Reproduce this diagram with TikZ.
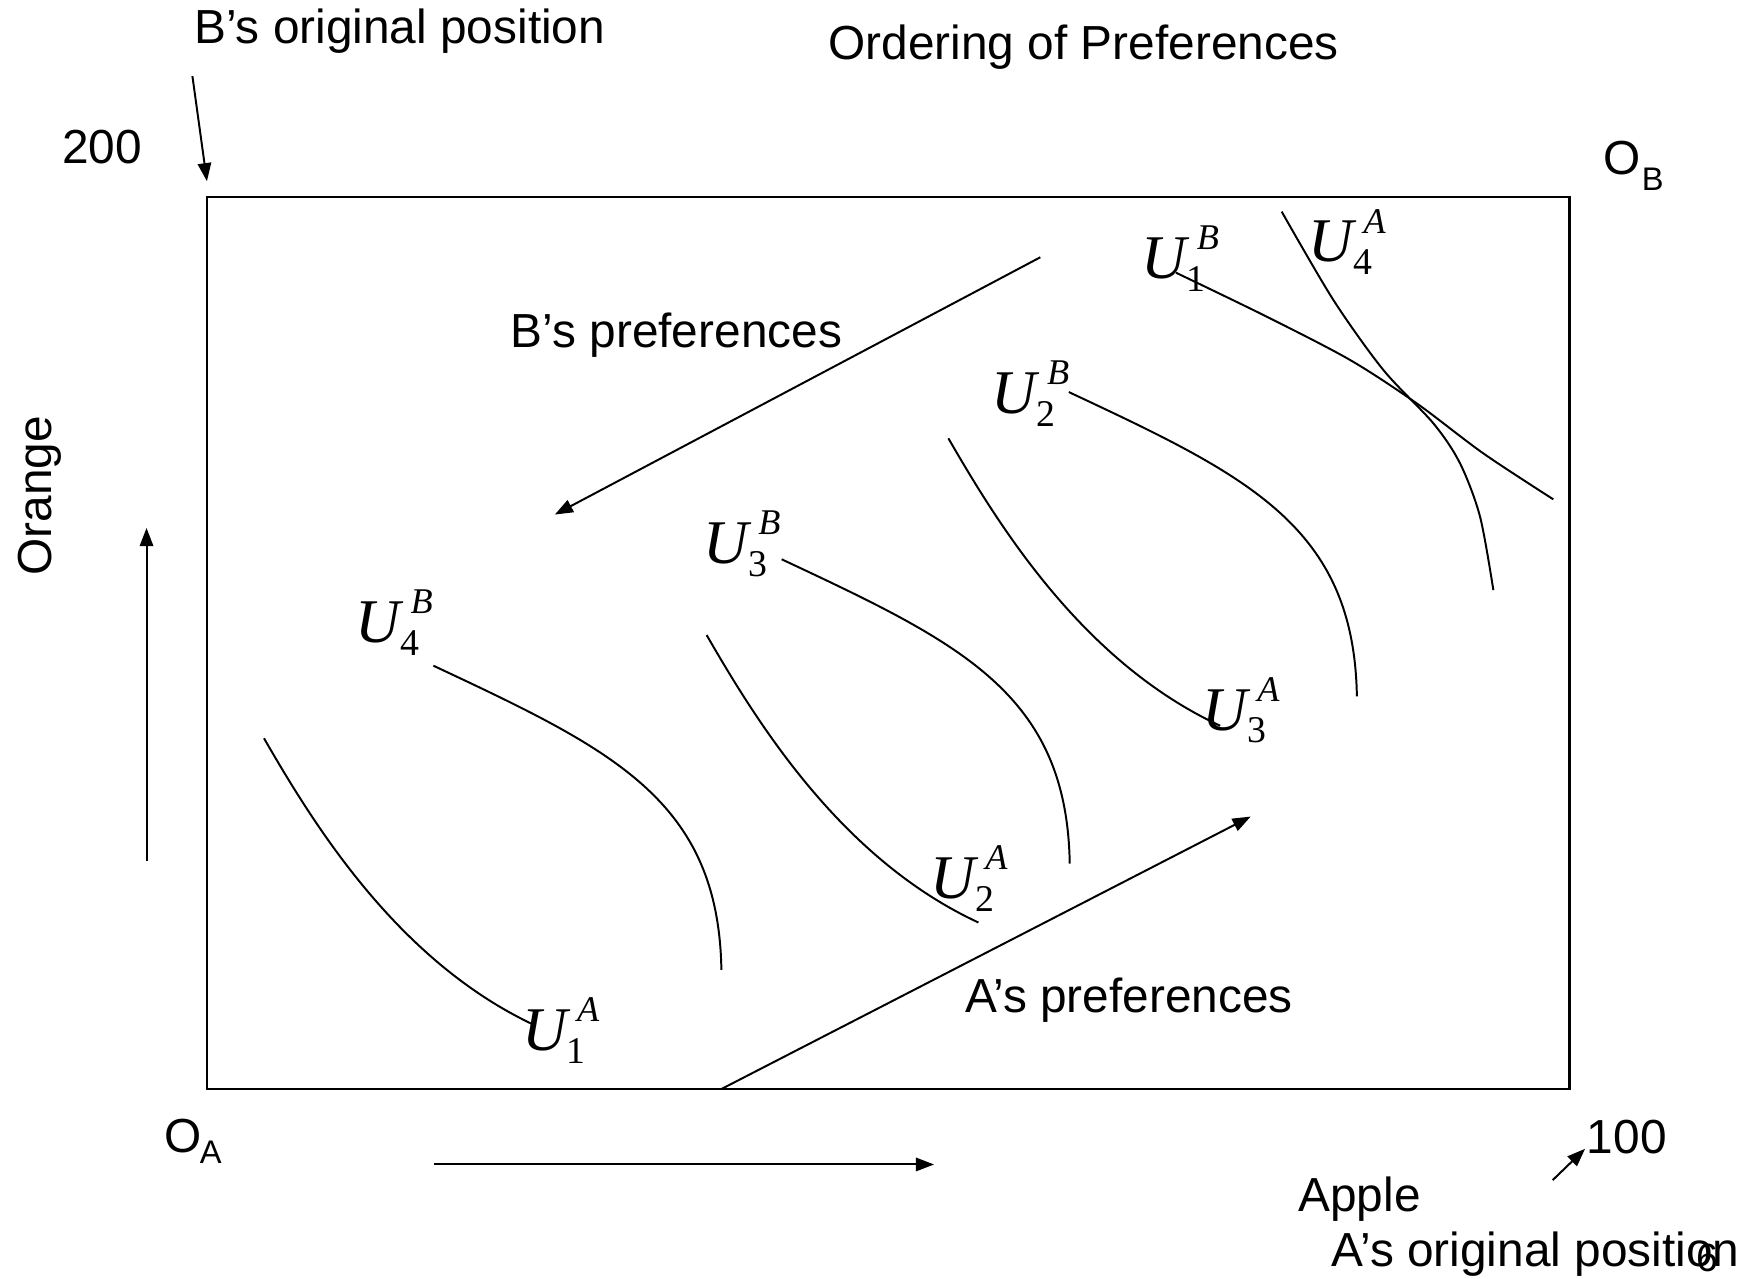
\documentclass[tikz,border=0pt]{standalone}
\usepackage{fontspec}
\setmainfont{Liberation Sans}
\newfontfamily\tnr{Liberation Serif}
\usetikzlibrary{arrows.meta}
\newcommand\Ulab[2]{{\fontsize{15.8}{16}\selectfont\tnr\itshape U}\rlap{\raisebox{-3.3pt}{\fontsize{9.6}{10}\selectfont\tnr #1}}\hspace{2.6pt}\raisebox{7.3pt}{\fontsize{9.2}{10}\selectfont\tnr\itshape #2}}
\begin{document}
\begin{tikzpicture}[x=0.01cm,y=-0.01cm,
  font=\fontsize{12.15}{14}\selectfont,
  txt/.style={inner sep=0pt, anchor=base west},
  subtxt/.style={inner sep=0pt, anchor=base west, font=\fontsize{8.3}{9}\selectfont},
  arr/.style={line width=0.5pt, -{Triangle[length=4.6pt,width=3.4pt]}},
  icurve/.style={line width=0.5pt},
  box/.style={line width=0.6pt}]
\useasboundingbox (0,0) rectangle (1568,1143);

% Edgeworth box
\draw[box] (185,176) rectangle (1403,973.5);

% texts
\node[txt] (borig) at (173,39) {B’s original position};
\node[txt] (title) at (740,53) {Ordering of Preferences};
\node[txt] (n200) at (55,146) {200};
\node[txt] (OB) at (1433,156) {O};
\node[subtxt] (OBs) at (1467,170) {B};
\node[txt] (OA) at (146,1030) {O};
\node[subtxt] (OAs) at (178,1040) {A};
\node[txt] (n100) at (1418,1031) {100};
\node[txt] (apple) at (1160,1083) {Apple};
\node[txt] (aorig) at (1190,1132) {A’s original position};
\node[txt, font=\fontsize{10}{11}\selectfont] (pg) at (1516,1137) {6};
\node[txt] (bpref) at (456,311) {B’s preferences};
\node[txt] (apref) at (862,905) {A’s preferences};
\node[txt, rotate=90] (orange) at (46,515) {Orange};

% arrows
\coordinate (b1) at (172,68);  \coordinate (b2) at (185,162);
\coordinate (o1) at (131,770); \coordinate (o2) at (131,472);
\coordinate (a1) at (388,1041); \coordinate (a2) at (835,1041);
\coordinate (c1) at (1388,1055); \coordinate (c2) at (1417,1027);
\coordinate (p1) at (930,230); \coordinate (p2) at (496,460);
\coordinate (q1) at (645,973.5); \coordinate (q2) at (1118,730);
\draw[arr] (b1) -- (b2);
\draw[arr] (o1) -- (o2);
\draw[arr] (a1) -- (a2);
\draw[arr] (c1) -- (c2);
\draw[arr] (p1) -- (p2);
\draw[arr] (q1) -- (q2);

% B indifference curves
\foreach \sx/\sy in {387.4/595.1, 698.8/500, 955.5/350.5}{
  \draw[icurve, shift={(\sx,\sy)}] (0,0) .. controls (160,75) and (255,120) .. (257.5,272);
}
% A indifference curves
\foreach \sx/\sy in {236/660, 631.7/567.7, 847.8/391.8}{
  \draw[icurve, shift={(\sx,\sy)}] (0,0) .. controls (45,78) and (120,200) .. (243,257);
}
% U1B and U4A
\draw[icurve] plot[smooth] coordinates {(1051.3,243.8) (1132.4,283.1) (1206.9,321.8) (1266.5,360.6) (1326,405.3) (1388.6,446.4)};
\draw[icurve] plot[smooth] coordinates {(1145.8,189.2) (1192,268.2) (1236.7,330.8) (1281.4,378.5) (1305.2,414.2) (1323.1,461.9) (1335,527.5)};

% curve labels
\node[txt] (u1b) at (1020,248.8) {\Ulab{1}{B}};
\node[txt] (u4a) at (1169,234) {\Ulab{4}{A}};
\node[txt] (u2b) at (886,369.5) {\Ulab{2}{B}};
\node[txt] (u3b) at (628,503.6) {\Ulab{3}{B}};
\node[txt] (u4b) at (317,574) {\Ulab{4}{B}};
\node[txt] (u3a) at (1074,652.6) {\Ulab{3}{A}};
\node[txt] (u2a) at (831,803) {\Ulab{2}{A}};
\node[txt] (u1a) at (466,938.7) {\Ulab{1}{A}};
\end{tikzpicture}
\end{document}
